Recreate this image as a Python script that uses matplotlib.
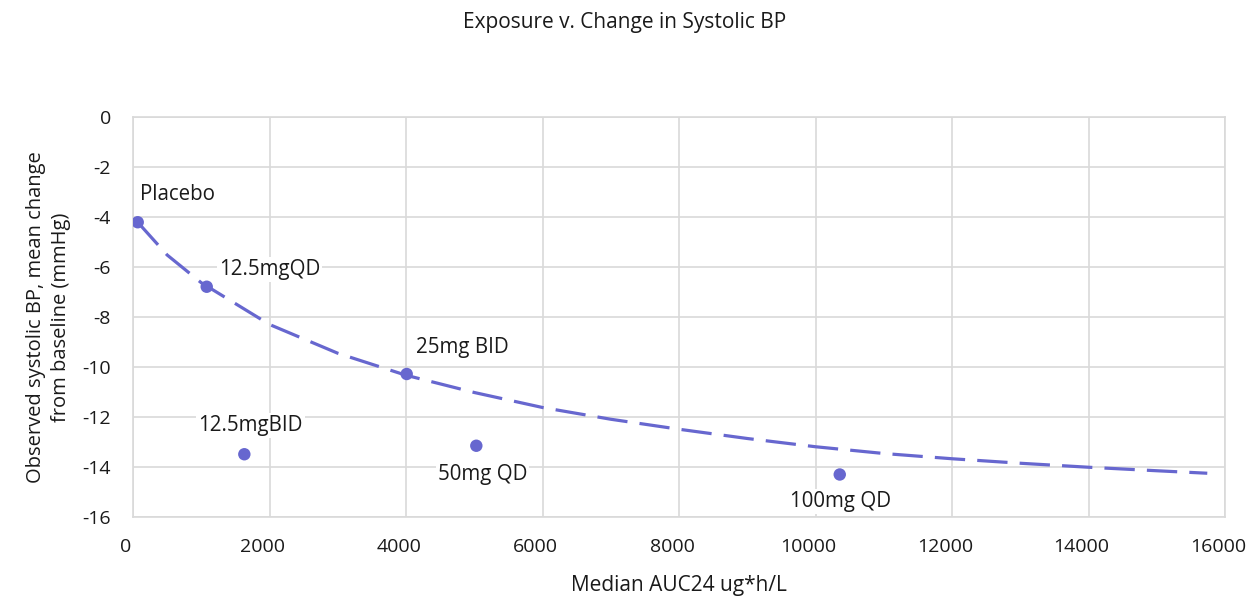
import matplotlib
matplotlib.use("Agg")
from matplotlib import pyplot as plt
from matplotlib import transforms

# observed points
doses = ["Placebo", "12.5mgQD", "12.5mgBID", "25mg BID", "50mg QD", "100mg QD"]
auc = [69, 1080, 1631, 4010, 5030, 10355]
sbp = [-4.21, -6.79, -13.49, -10.28, -13.15, -14.30]

# fitted curve
curve_x = [69, 500, 1000, 2000, 3000, 4000, 5000, 6000, 7000, 8000,
           9000, 10000, 11000, 12000, 13000, 14000, 15000, 15740]
curve_y = [-4.21, -5.52, -6.63, -8.30, -9.45, -10.33, -11.02, -11.62, -12.09,
           -12.49, -12.86, -13.19, -13.46, -13.67, -13.85, -14.01, -14.15, -14.25]

COLOR = "#6767cf"
GRID = "#d9d9d9"
TEXT = "#1a1a1a"

plt.rcParams['font.family'] = ['Open Sans', 'DejaVu Sans']
plt.rcParams['axes.unicode_minus'] = False

fig = plt.figure(figsize=(12.49, 5.99), dpi=100)
ax = fig.add_axes([0.1065, 0.1369, 0.8743, 0.6678])

ax.plot(curve_x, curve_y, color=COLOR, lw=2.3, dashes=(9.5, 3.8),
        dash_capstyle='butt', zorder=3)
ax.scatter(auc, sbp, s=80, color=COLOR, zorder=4, edgecolors='none')

# label offsets in pixels
offsets = [(40, 28), (63, 17), (6, 29), (56, 26), (6, -29), (1, -27)]
for name, x, y, off in zip(doses, auc, sbp, offsets):
    ax.annotate(name, (x, y), xytext=off, textcoords='offset pixels',
                ha='center', va='center', fontsize=14.8, color=TEXT,
                bbox=dict(facecolor='white', edgecolor='none', pad=1.5),
                zorder=5)

ax.set_xlim(0, 16000)
ax.set_ylim(-16, 0)
ax.set_xticks(range(0, 16001, 2000))
ax.set_yticks(range(-16, 1, 2))
ax.grid(True, color=GRID, lw=1.2, zorder=0)
ax.set_axisbelow(True)
for sp in ax.spines.values():
    sp.set_color(GRID)
    sp.set_linewidth(1.2)
ax.tick_params(axis='x', length=0, labelsize=14, labelcolor=TEXT, pad=15)
ax.tick_params(axis='y', length=0, labelsize=14, labelcolor=TEXT, pad=16)

# x tick labels sit a little left of their gridlines
shift = transforms.ScaledTranslation(-7 / 100, 0, fig.dpi_scale_trans)
for lbl in ax.get_xticklabels():
    lbl.set_transform(lbl.get_transform() + shift)

ax.set_xlabel("Median AUC24 ug*h/L", fontsize=15, color=TEXT, labelpad=14)
ax.set_ylabel("Observed systolic BP, mean change\nfrom baseline (mmHg)",
              fontsize=14.5, color=TEXT, labelpad=8, linespacing=1.35)
fig.suptitle("Exposure v. Change in Systolic BP", y=0.98, fontsize=15,
             color=TEXT)

fig.savefig("out.png", dpi=100)
